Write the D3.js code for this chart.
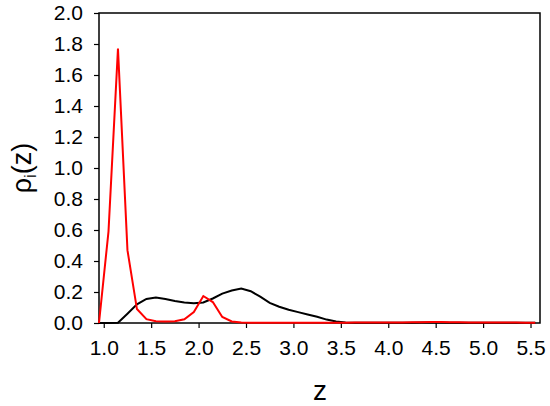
<!DOCTYPE html>
<html>
<head>
<meta charset="utf-8">
<script src="https://cdn.jsdelivr.net/npm/d3@7"></script>
<style>
  body { margin: 0; background: #fff; }
  svg { display: block; font-family: Arial, "Liberation Sans", sans-serif; }
</style>
</head>
<body>
<div id="chart"></div>
<script>
// z grid (step 0.1) and density profiles
var zValues = [0.95, 1.05, 1.15, 1.25, 1.35, 1.45, 1.55, 1.65, 1.75, 1.85, 1.95,
               2.05, 2.15, 2.25, 2.35, 2.45, 2.55, 2.65, 2.75, 2.85, 2.95,
               3.05, 3.15, 3.25, 3.35, 3.45, 3.55, 3.65, 3.75, 3.85, 3.95,
               4.05, 4.15, 4.25, 4.35, 4.45, 4.55, 4.65, 4.75, 4.85, 4.95,
               5.05, 5.15, 5.25, 5.35, 5.45, 5.55];
var blackRho = [0, 0, 0.002, 0.06, 0.12, 0.155, 0.165, 0.155, 0.142, 0.133, 0.128,
                0.132, 0.158, 0.19, 0.21, 0.222, 0.205, 0.17, 0.13, 0.105, 0.085,
                0.07, 0.055, 0.04, 0.022, 0.01, 0.004, 0.001, 0.001, 0.001, 0.001,
                0.001, 0.002, 0.002, 0.003, 0.003, 0.003, 0.002, 0.002, 0.001, 0.001,
                0.001, 0.001, 0.001, 0.001, 0.001, 0.001];
var redRho = [0, 0.59, 1.77, 0.47, 0.09, 0.025, 0.012, 0.01, 0.012, 0.024, 0.071,
              0.174, 0.135, 0.039, 0.01, 0.003, 0.002, 0.002, 0.002, 0.002, 0.002,
              0.002, 0.002, 0.002, 0.002, 0.002, 0.002, 0.003, 0.003, 0.003, 0.004,
              0.004, 0.004, 0.005, 0.005, 0.006, 0.006, 0.005, 0.005, 0.004, 0.004,
              0.003, 0.003, 0.003, 0.003, 0.002, 0.002];
var xTicks = [1.0, 1.5, 2.0, 2.5, 3.0, 3.5, 4.0, 4.5, 5.0, 5.5];
var yTicks = [0, 0.2, 0.4, 0.6, 0.8, 1.0, 1.2, 1.4, 1.6, 1.8, 2.0];

var width = 550, height = 406;
var margin = {top: 13, right: 10, bottom: 83, left: 99};

var svg = d3.select("#chart").append("svg")
    .attr("width", width)
    .attr("height", height);

var x = d3.scaleLinear().domain([0.95, 5.6]).range([margin.left, width - margin.right]);
var y = d3.scaleLinear().domain([0, 2.0]).range([height - margin.bottom, margin.top]);

// frame
svg.append("rect")
    .attr("x", x.range()[0])
    .attr("y", y.range()[1])
    .attr("width", x.range()[1] - x.range()[0])
    .attr("height", y.range()[0] - y.range()[1])
    .attr("fill", "none")
    .attr("stroke", "#000")
    .attr("stroke-width", 1.5);

// axes
var xAxis = svg.append("g")
    .attr("transform", "translate(0," + y(0) + ")")
    .call(d3.axisBottom(x).tickValues(xTicks).tickFormat(d3.format(".1f")).tickSize(5).tickPadding(12));
var yAxis = svg.append("g")
    .attr("transform", "translate(" + x.range()[0] + ",0)")
    .call(d3.axisLeft(y).tickValues(yTicks).tickFormat(d3.format(".1f")).tickSize(5).tickPadding(11));

[xAxis, yAxis].forEach(function(a) {
    a.select(".domain").remove();
    a.selectAll(".tick line").attr("stroke", "#000").attr("stroke-width", 1.2);
    a.selectAll(".tick text").attr("fill", "#000").style("font-size", "21px")
        .style("font-family", "Arial, 'Liberation Sans', sans-serif");
});

// lines
var line = d3.line()
    .x(function(d) { return x(d[0]); })
    .y(function(d) { return y(d[1]); });

svg.append("path")
    .datum(d3.zip(zValues, blackRho))
    .attr("d", line)
    .attr("fill", "none")
    .attr("stroke", "#000")
    .attr("stroke-width", 2);

svg.append("path")
    .datum(d3.zip(zValues, redRho))
    .attr("d", line)
    .attr("fill", "none")
    .attr("stroke", "#ff0000")
    .attr("stroke-width", 2);

// axis titles
svg.append("text")
    .attr("x", 320)
    .attr("y", 400)
    .attr("text-anchor", "middle")
    .style("font-size", "28px")
    .text("z");

var yt = svg.append("text")
    .attr("transform", "translate(31,168) rotate(-90)")
    .attr("text-anchor", "middle")
    .style("font-size", "27px");
yt.append("tspan").text("ρ");
yt.append("tspan").attr("dy", 5).style("font-size", "17px").text("i");
yt.append("tspan").attr("dy", -5).text("(z)");
</script>
</body>
</html>
